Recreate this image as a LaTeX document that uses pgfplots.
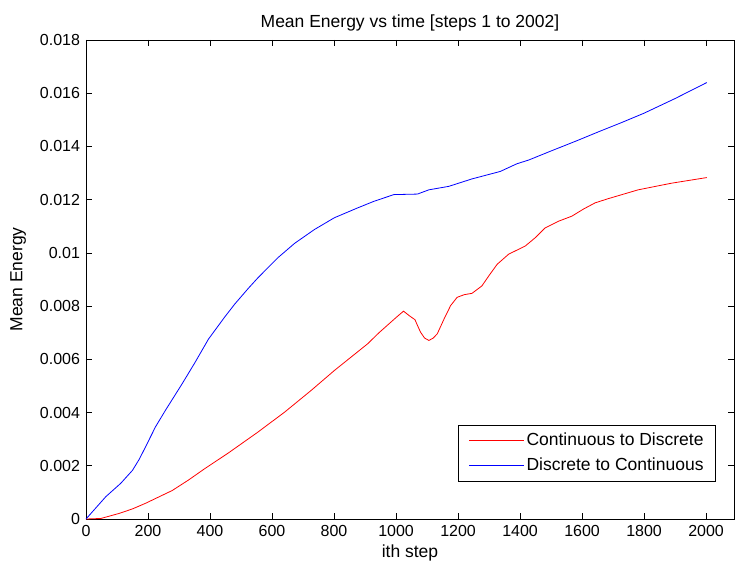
\documentclass[border=0pt]{standalone}
\usepackage{pgfplots}
\pgfplotsset{compat=1.18}
\usepackage{fontspec}
\setmainfont{Liberation Sans}
\usetikzlibrary{calc}
\begin{document}
\fontsize{17.5bp}{21bp}\selectfont
\begin{tikzpicture}
\begin{axis}[
  scale only axis,
  width=648bp, height=479bp,
  xmin=0, xmax=2090, ymin=0, ymax=0.018,
  xtick={0,200,...,2000},
  ytick={0,0.002,0.004,0.006,0.008,0.01,0.012,0.014,0.016,0.018},
  yticklabels={0,0.002,0.004,0.006,0.008,0.01,0.012,0.014,0.016,0.018},
  scaled y ticks=false,
  xticklabel style={/pgf/number format/1000 sep={}},
  ticklabel style={font=\fontsize{16bp}{19bp}\selectfont},
  /pgf/number format/assume math mode=true,
  tick align=inside,
  major tick length=6bp,
  tick style={black, line width=0.6bp},
  axis line style={black, line width=0.6bp},
  title={Mean Energy vs time [steps 1 to 2002]},
  title style={yshift=-3bp},
  xlabel={ith step},
  ylabel={Mean Energy},
  xlabel style={yshift=3bp},
  ylabel style={yshift=2bp},
  legend cell align=left,
  legend style={at={(0.972,0.079)}, anchor=south east, draw=black, line width=0.6bp, inner xsep=10bp, inner ysep=6bp, row sep=5bp, font=\fontsize{17.5bp}{21bp}\selectfont},
  legend image code/.code={\draw[#1, line width=0.9bp] (0bp,0bp) -- (55bp,0bp);},
]
\coordinate (sw) at (rel axis cs:0,0);
\coordinate (ne) at (rel axis cs:1,1);
\addplot[red, line width=0.8bp] coordinates {
(0,0) (48,0.00002) (107,0.00021) (150,0.00038) (192,0.00059) (278,0.00107) (330,0.00146) (384,0.0019) (459,0.00248) (555,0.00327) (641,0.00402)
(726,0.00483) (801,0.00558) (908,0.00658) (945,0.00700) (1000,0.00757) (1024,0.00781) (1045,0.00762) (1061,0.00749) (1070,0.00725) (1079,0.00702) (1092,0.00680) (1106,0.00671) (1120,0.00680) (1133,0.00696)
(1155,0.00752) (1176,0.00802) (1197,0.00833) (1220,0.00843) (1245,0.00848) (1277,0.00876) (1300,0.00915) (1326,0.00957) (1363,0.00995) (1417,0.01026) (1450,0.01058) (1481,0.01094) (1524,0.01119) (1567,0.01138)
(1605,0.01165) (1642,0.01188) (1685,0.01204) (1781,0.01237) (1889,0.01262) (2002,0.01283)
};
\addlegendentry{Continuous to Discrete}
\addplot[blue, line width=0.8bp] coordinates {
(0,0) (64,0.00084) (112,0.00134) (150,0.00183) (172,0.00225) (192,0.00271) (224,0.00346) (256,0.00408) (310,0.00508) (352,0.00589) (395,0.00676) (448,0.00760) (480,0.00808)
(523,0.00866) (555,0.00907) (619,0.00982) (673,0.01036) (737,0.01088) (801,0.01132) (876,0.01169) (929,0.01194) (993,0.01219) (1069,0.01221) (1106,0.01237) (1170,0.0125)
(1245,0.01278) (1336,0.01306) (1390,0.01335) (1428,0.01349) (1500,0.01383) (1580,0.01420) (1653,0.01455) (1730,0.01491) (1800,0.01525) (1900,0.01580) (2002,0.0164)
};
\addlegendentry{Discrete to Continuous}
\end{axis}
\pgfresetboundingbox
\path[use as bounding box] ($(sw)+(-86bp,-48bp)$) rectangle ($(ne)+(1bp,40bp)$);
\end{tikzpicture}
\end{document}
